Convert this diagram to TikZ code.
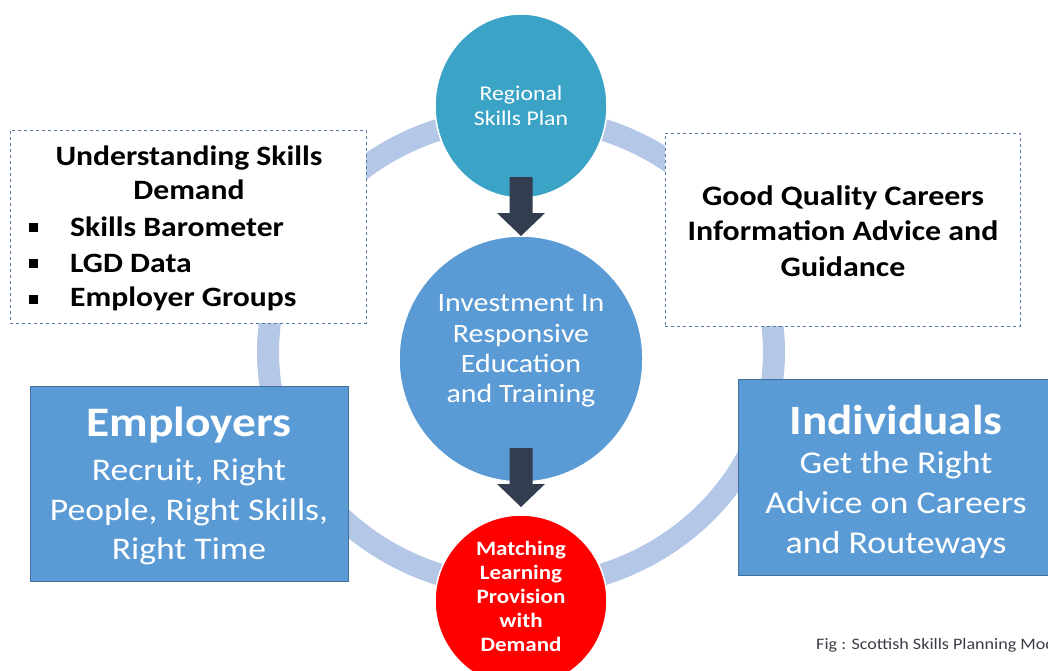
\documentclass[tikz,border=0pt]{standalone}
\usepackage{fontspec}
\setmainfont{Carlito}[FakeStretch=1.13]
\usetikzlibrary{shapes.geometric}
\definecolor{ringblue}{RGB}{180,199,231}
\definecolor{topblue}{RGB}{59,163,198}
\definecolor{midblue}{RGB}{91,155,213}
\definecolor{boxedge}{RGB}{65,113,156}
\definecolor{dashedge}{RGB}{84,120,165}
\definecolor{arrowdark}{RGB}{50,62,79}
\definecolor{captiongray}{RGB}{60,60,70}
\tikzset{
  bubble/.style={ellipse, draw=white, line width=1.5pt, inner sep=0pt},
  solidbox/.style={draw=boxedge, line width=0.8pt, fill=midblue},
  dashbox/.style={draw=dashedge, dashed, line width=0.8pt, fill=white},
  whitetext/.style={text=white, align=center, inner sep=0pt},
  darktext/.style={text=black, align=center, inner sep=0pt, font=\bfseries},
  downarrow/.style={fill=arrowdark, draw=none},
}
\begin{document}
\begin{tikzpicture}[x=1pt, y=-1pt]
  \useasboundingbox (0,0) rectangle (1048,670);
  \clip (0,0) rectangle (1048,670);

  % cycle ring behind everything
  \draw[ringblue, line width=22pt] (521,352) ellipse [x radius=253, y radius=235];

  % dashed information boxes
  \node[dashbox, minimum width=356pt, minimum height=193pt, anchor=north west] (demandbox) at (10,130) {};
  \node[dashbox, minimum width=355pt, minimum height=193pt, anchor=north west] (careersbox) at (665,133) {};

  \node[darktext, font=\bfseries\fontsize{28}{34}\selectfont] (demandtitle) at (189,173) {Understanding Skills\\Demand};
  \foreach \y/\name/\txt in {227/itemA/Skills Barometer, 263/itemB/LGD Data, 299/itemC/Employer Groups} {
    \fill (28.5,\y-4.5) rectangle (37.5,\y+4.5);
    \node[anchor=west, inner sep=0pt, font=\bfseries\fontsize{28}{30}\selectfont] (\name) at (70,\y) {\txt};
  }
  \node[darktext, font=\bfseries\fontsize{28.2}{35.5}\selectfont] (careerstext) at (843,231)
    {Good Quality Careers\\Information Advice and\\Guidance};

  % solid stakeholder boxes
  \node[solidbox, minimum width=318pt, minimum height=195pt, anchor=north west] (employers) at (30,386) {};
  \node[solidbox, minimum width=320pt, minimum height=196pt, anchor=north west] (individuals) at (738,379) {};

  \node[whitetext, font=\bfseries\fontsize{42}{42}\selectfont] (emptitle) at (189,425) {Employers};
  \node[whitetext, font=\fontsize{31.5}{39.5}\selectfont] (emptext) at (189,512)
    {Recruit, Right\\People, Right Skills,\\Right Time};
  \node[whitetext, font=\bfseries\fontsize{41.7}{42}\selectfont] (indtitle) at (896,420) {Individuals};
  \node[whitetext, font=\fontsize{31.8}{40}\selectfont] (indtext) at (896,505)
    {Get the Right\\Advice on Careers\\and Routeways};

  % central circles
  \node[bubble, fill=topblue, minimum width=172pt, minimum height=184pt] (plan) at (521,106) {};
  \node[whitetext, font=\fontsize{21}{25}\selectfont] (plantext) at (521,106) {Regional\\Skills Plan};

  \node[bubble, fill=midblue, minimum width=244pt, minimum height=246pt] (invest) at (521,359) {};
  \node[whitetext, font=\fontsize{26.5}{30.3}\selectfont] (investtext) at (521,351)
    {Investment In\\Responsive\\Education\\and Training};

  \node[bubble, fill=red, minimum width=172pt, minimum height=172pt] (match) at (521,601) {};
  \node[whitetext, font=\bfseries\fontsize{20.4}{24}\selectfont] (matchtext) at (521,596)
    {Matching\\Learning\\Provision\\with\\Demand};

  % block arrows between the circles
  \coordinate (a1) at (521,177);
  \coordinate (a2) at (521,448);
  \foreach \c in {a1,a2} {
    \fill[downarrow] ([xshift=-11.5pt]\c) -- ([xshift=11.5pt]\c)
      -- ([xshift=11.5pt,yshift=-36pt]\c) -- ([xshift=24pt,yshift=-36pt]\c)
      -- ([yshift=-59pt]\c) -- ([xshift=-24pt,yshift=-36pt]\c)
      -- ([xshift=-11.5pt,yshift=-36pt]\c) -- cycle;
  }

  % caption
  \node[anchor=west, inner sep=0pt, text=captiongray, font=\fontsize{16}{18}\selectfont] (caption) at (816,645)
    {Fig : Scottish Skills Planning Model};
\end{tikzpicture}
\end{document}
